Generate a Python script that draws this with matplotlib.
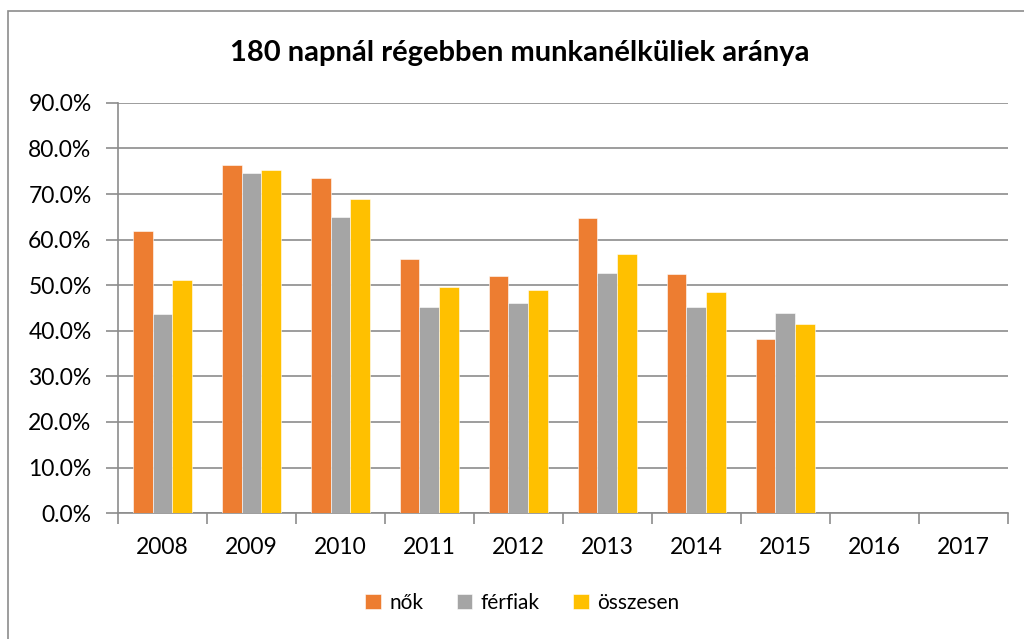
import numpy as np
import matplotlib.pyplot as plt
from matplotlib.patches import Rectangle
from matplotlib.ticker import FuncFormatter, FixedLocator

plt.rcParams['font.family'] = ['Lato', 'DejaVu Sans']

years = ['2008', '2009', '2010', '2011', '2012', '2013', '2014', '2015', '2016', '2017']
nok = [62.0, 76.3, 73.6, 55.7, 52.0, 64.7, 52.5, 38.2, np.nan, np.nan]
ferfiak = [43.7, 74.6, 64.9, 45.3, 46.1, 52.7, 45.2, 43.9, np.nan, np.nan]
osszesen = [51.1, 75.2, 68.9, 49.7, 49.0, 56.9, 48.6, 41.5, np.nan, np.nan]

series = [('nők', nok, '#ED7D31'), ('férfiak', ferfiak, '#A5A5A5'), ('összesen', osszesen, '#FFC000')]

fig = plt.figure(figsize=(10.24, 6.39), dpi=100)
ax = fig.add_axes([0.1152, 0.197, 0.8688, 0.642])

# keret
fig.patches.append(Rectangle((8 / 1024, -0.01), 1.05, 1 - 11 / 639 + 0.01, transform=fig.transFigure,
                             fill=False, edgecolor='#8c8c8c', linewidth=1.2))

x = np.arange(len(years))
w = 0.222
for i, (name, vals, col) in enumerate(series):
    ax.bar(x + (i - 1) * w, vals, w, color=col, label=name, zorder=3,
           edgecolor='white', linewidth=0.4)

ax.set_xlim(-0.5, len(years) - 0.5)
ax.set_ylim(0, 90)
ax.set_yticks(np.arange(0, 91, 10))
ax.yaxis.set_major_formatter(FuncFormatter(lambda v, p: f'{v:.1f}%'))
ax.set_xticks(x)
ax.set_xticklabels(years)
ax.xaxis.set_minor_locator(FixedLocator(np.arange(-0.5, len(years), 1)))
ax.grid(axis='y', color='#8c8c8c', linewidth=1.2, zorder=0)

for s in ['top', 'right']:
    ax.spines[s].set_visible(False)
for s in ['left', 'bottom']:
    ax.spines[s].set_color('#8c8c8c')
    ax.spines[s].set_linewidth(1.2)

ax.tick_params(axis='y', labelsize=16.5, length=9, color='#8c8c8c', width=1.2, pad=10)
ax.tick_params(axis='x', which='major', labelsize=16.5, length=0, pad=17)
ax.tick_params(axis='x', which='minor', length=8, color='#8c8c8c', width=1.2)

fig.text(0.508, 0.917, '180 napnál régebben munkanélküliek aránya', ha='center', va='center',
         fontsize=21, fontweight='bold')

fig.legend(loc='center', bbox_to_anchor=(0.51, 0.057), ncol=3, frameon=False, fontsize=15,
           handlelength=0.75, handleheight=0.75, handletextpad=0.4, columnspacing=1.6)

fig.savefig('out.png', dpi=100)
